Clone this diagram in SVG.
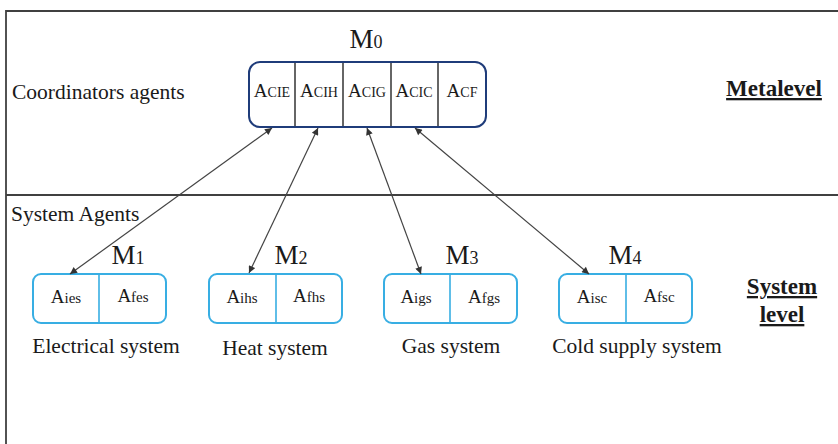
<svg xmlns="http://www.w3.org/2000/svg" width="838" height="444" viewBox="0 0 838 444">
<defs>
<marker id="ah" viewBox="0 0 10 10" refX="10" refY="5" markerWidth="9" markerHeight="7" markerUnits="userSpaceOnUse" orient="auto-start-reverse"><path d="M0,0 L10,5 L0,10 z" fill="#333"/></marker>
</defs>
<style>
text{font-family:"Liberation Serif","Times New Roman",serif;fill:#1a1a1a}
.lbl{font-size:21.5px}
.big{font-size:27px}
.sub{font-size:18px}
.cell{font-size:19px}
.sm{font-size:14px}
.sm2{font-size:15px}
.bold{font-size:23px;font-weight:bold;text-decoration:underline}
.frame{stroke:#404040;stroke-width:1.8;fill:none}
.top{fill:#fff;stroke:#1f3c7a;stroke-width:2}
.bot{fill:#fff;stroke:#38aee3;stroke-width:2}
.conn{stroke:#444;stroke-width:1.2;fill:none;marker-start:url(#ah);marker-end:url(#ah)}
</style>
<rect width="838" height="444" fill="#fff"/>
<g id="frame">
<path class="frame" d="M838,11 H6 V444"/>
<line class="frame" x1="6" y1="195" x2="838" y2="195" stroke-width="2.2"/>
</g>
<g id="labels">
<text class="lbl" x="12" y="99">Coordinators agents</text>
<text class="lbl" x="11" y="221">System Agents</text>
<text class="bold" x="774" y="96" text-anchor="middle">Metalevel</text>
<text class="bold" x="782" y="294" text-anchor="middle">System</text>
<text class="bold" x="782" y="322" text-anchor="middle">level</text>
</g>
<g id="M0">
<text x="366" y="48" text-anchor="middle"><tspan class="big">M</tspan><tspan class="sub">0</tspan></text>
<rect class="top" x="249" y="62" width="237" height="65" rx="11"/>
<g stroke="#333" stroke-width="1.5">
<line x1="295" y1="63" x2="295" y2="126"/>
<line x1="343" y1="63" x2="343" y2="126"/>
<line x1="391" y1="63" x2="391" y2="126"/>
<line x1="438" y1="63" x2="438" y2="126"/>
</g>
<text x="272" y="97" text-anchor="middle"><tspan class="cell">A</tspan><tspan class="sm">CIE</tspan></text>
<text x="319" y="97" text-anchor="middle"><tspan class="cell">A</tspan><tspan class="sm">CIH</tspan></text>
<text x="367" y="97" text-anchor="middle"><tspan class="cell">A</tspan><tspan class="sm">CIG</tspan></text>
<text x="414" y="97" text-anchor="middle"><tspan class="cell">A</tspan><tspan class="sm">CIC</tspan></text>
<text x="462" y="97" text-anchor="middle"><tspan class="cell">A</tspan><tspan class="sm">CF</tspan></text>
</g>
<g id="M1">
<text x="128" y="264" text-anchor="middle"><tspan class="big">M</tspan><tspan class="sub">1</tspan></text>
<rect class="bot" x="33" y="274" width="133" height="49" rx="8"/>
<line x1="99" y1="274" x2="99" y2="323" stroke="#38aee3" stroke-width="1.6"/>
<text x="66" y="303" text-anchor="middle"><tspan class="cell">A</tspan><tspan class="sm2">ies</tspan></text>
<text x="133" y="302" text-anchor="middle"><tspan class="cell">A</tspan><tspan class="sm2">fes</tspan></text>
<text class="lbl" x="106" y="353" text-anchor="middle">Electrical system</text>
</g>
<g id="M2">
<text x="291" y="264" text-anchor="middle"><tspan class="big">M</tspan><tspan class="sub">2</tspan></text>
<rect class="bot" x="209" y="274" width="133" height="49" rx="8"/>
<line x1="276" y1="274" x2="276" y2="323" stroke="#38aee3" stroke-width="1.6"/>
<text x="242" y="303" text-anchor="middle"><tspan class="cell">A</tspan><tspan class="sm2">ihs</tspan></text>
<text x="309" y="302" text-anchor="middle"><tspan class="cell">A</tspan><tspan class="sm2">fhs</tspan></text>
<text class="lbl" x="275" y="355" text-anchor="middle">Heat system</text>
</g>
<g id="M3">
<text x="462" y="264" text-anchor="middle"><tspan class="big">M</tspan><tspan class="sub">3</tspan></text>
<rect class="bot" x="384" y="274" width="133" height="49" rx="8"/>
<line x1="450" y1="274" x2="450" y2="323" stroke="#38aee3" stroke-width="1.6"/>
<text x="416" y="303" text-anchor="middle"><tspan class="cell">A</tspan><tspan class="sm2">igs</tspan></text>
<text x="484" y="303" text-anchor="middle"><tspan class="cell">A</tspan><tspan class="sm2">fgs</tspan></text>
<text class="lbl" x="451" y="353" text-anchor="middle">Gas system</text>
</g>
<g id="M4">
<text x="625" y="264" text-anchor="middle"><tspan class="big">M</tspan><tspan class="sub">4</tspan></text>
<rect class="bot" x="559" y="274" width="133" height="49" rx="8"/>
<line x1="626" y1="274" x2="626" y2="323" stroke="#38aee3" stroke-width="1.6"/>
<text x="592" y="303" text-anchor="middle"><tspan class="cell">A</tspan><tspan class="sm2">isc</tspan></text>
<text x="659" y="302" text-anchor="middle"><tspan class="cell">A</tspan><tspan class="sm2">fsc</tspan></text>
<text class="lbl" x="637" y="353" text-anchor="middle">Cold supply system</text>
</g>
<g id="connectors">
<line class="conn" x1="272" y1="128" x2="70" y2="274"/>
<line class="conn" x1="318" y1="128" x2="249" y2="273"/>
<line class="conn" x1="367" y1="128" x2="421" y2="274"/>
<line class="conn" x1="415" y1="128" x2="589" y2="274"/>
</g>
</svg>
